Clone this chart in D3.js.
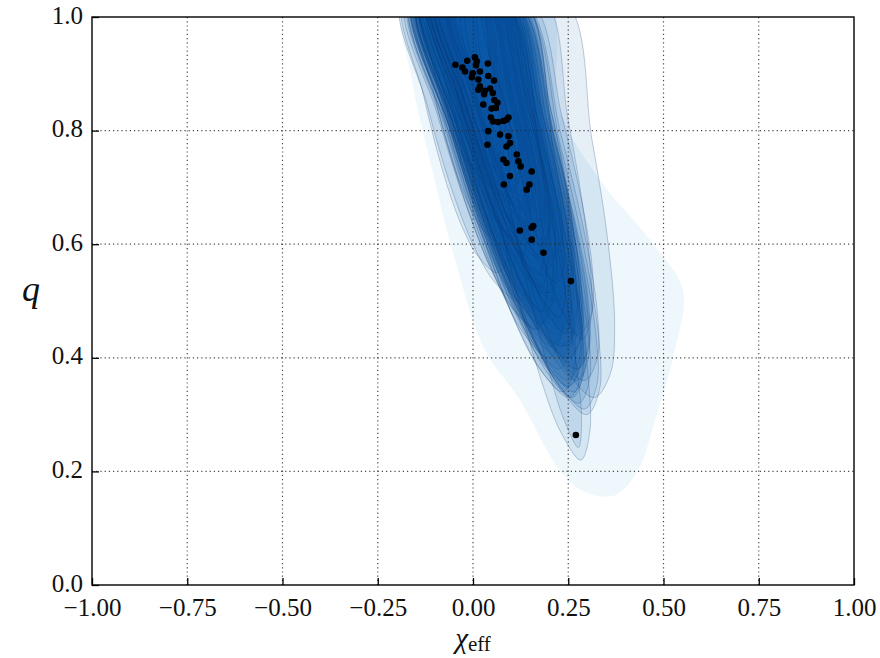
<!DOCTYPE html>
<html>
<head>
<meta charset="utf-8">
<script src="https://cdn.jsdelivr.net/npm/d3@7"></script>
<style>
  body { margin: 0; background: #fff; }
  svg { display: block; }
</style>
</head>
<body>
<svg id="chart" width="880" height="658"></svg>
<script>
// Median effective spin and mass ratio of each event (black markers)
const chiMed = [-0.046, -0.015, -0.028, -0.021, 0.005, 0.010, 0.008, 0.039, -0.001, 0.018,
                -0.003, 0.014, 0.040, 0.055, 0.018, 0.014, 0.031, 0.045, 0.029, 0.052,
                0.056, 0.064, 0.027, 0.049, 0.060, 0.047, 0.053, 0.066, 0.080, 0.093,
                0.088, 0.040, 0.071, 0.093, 0.038, 0.097, 0.088, 0.115, 0.080, 0.088,
                0.119, 0.125, 0.154, 0.097, 0.081, 0.148, 0.141, 0.123, 0.154, 0.158,
                0.154, 0.185, 0.257, 0.270];
const qMed   = [0.916, 0.923, 0.911, 0.904, 0.929, 0.922, 0.915, 0.918, 0.901, 0.904,
                0.894, 0.890, 0.896, 0.888, 0.878, 0.872, 0.870, 0.874, 0.864, 0.866,
                0.854, 0.849, 0.846, 0.839, 0.840, 0.823, 0.816, 0.815, 0.817, 0.823,
                0.819, 0.799, 0.793, 0.790, 0.775, 0.778, 0.772, 0.758, 0.749, 0.743,
                0.746, 0.737, 0.728, 0.720, 0.705, 0.705, 0.696, 0.624, 0.629, 0.632,
                0.608, 0.585, 0.535, 0.264];
// Lowest mass ratio reached by each event's outer credible contour
const qLow   = [0.55, 0.45, 0.60, 0.50, 0.40, 0.62, 0.52, 0.45, 0.58, 0.35,
                0.48, 0.55, 0.42, 0.50, 0.38, 0.60, 0.46, 0.53, 0.33, 0.44,
                0.57, 0.40, 0.50, 0.36, 0.55, 0.42, 0.48, 0.34, 0.52, 0.45,
                0.38, 0.40, 0.50, 0.36, 0.45, 0.55, 0.32, 0.42, 0.48, 0.35,
                0.50, 0.38, 0.44, 0.33, 0.46, 0.36, 0.50, 0.34, 0.40, 0.31,
                0.42, 0.30, 0.33, 0.22];
// Half-width of each contour in effective spin
const halfWidth = [0.10, 0.11, 0.09, 0.12, 0.12, 0.08, 0.10, 0.11, 0.09, 0.12,
                   0.10, 0.09, 0.12, 0.10, 0.11, 0.08, 0.11, 0.09, 0.12, 0.10,
                   0.09, 0.11, 0.10, 0.11, 0.08, 0.11, 0.10, 0.11, 0.09, 0.11,
                   0.11, 0.11, 0.10, 0.11, 0.11, 0.10, 0.11, 0.11, 0.10, 0.11,
                   0.12, 0.11, 0.12, 0.11, 0.10, 0.12, 0.12, 0.11, 0.12, 0.12,
                   0.12, 0.12, 0.13, 0.09];
// Spin shift per unit drop in mass ratio along each contour (q–chi correlation)
const tilt = [0.30, 0.38, 0.32, 0.35, 0.42, 0.30, 0.36, 0.40, 0.33, 0.42,
              0.38, 0.35, 0.42, 0.37, 0.42, 0.30, 0.40, 0.36, 0.42, 0.40,
              0.34, 0.42, 0.38, 0.42, 0.33, 0.40, 0.38, 0.42, 0.36, 0.40,
              0.42, 0.40, 0.38, 0.42, 0.40, 0.35, 0.42, 0.40, 0.40, 0.42,
              0.38, 0.42, 0.42, 0.42, 0.40, 0.42, 0.40, 0.40, 0.42, 0.42,
              0.42, 0.40, 0.30, 0.30];
// Outer, low-probability envelope of the broadest posteriors
const haloOutline = [[-0.18, 1.04], [0.19, 1.04], [0.228, 0.836], [0.333, 0.713], [0.465, 0.607],
                     [0.551, 0.519], [0.530, 0.414], [0.478, 0.290], [0.433, 0.202], [0.373, 0.158],
                     [0.294, 0.164], [0.228, 0.202], [0.123, 0.326], [0.031, 0.414], [-0.047, 0.572],
                     [-0.113, 0.748], [-0.160, 0.889]];

const xTicks = [-1.0, -0.75, -0.5, -0.25, 0.0, 0.25, 0.5, 0.75, 1.0];
const yTicks = [0.0, 0.2, 0.4, 0.6, 0.8, 1.0];

const serif = "'Liberation Serif', 'Times New Roman', Tinos, 'DejaVu Serif', serif";

const plot = { left: 92, right: 854, top: 17, bottom: 585 };
const x = d3.scaleLinear().domain([-1, 1]).range([plot.left, plot.right]);
const y = d3.scaleLinear().domain([0, 1]).range([plot.bottom, plot.top]);

const svg = d3.select("#chart");

svg.append("defs").append("clipPath").attr("id", "plot-clip")
  .append("rect")
  .attr("x", plot.left).attr("y", plot.top)
  .attr("width", plot.right - plot.left).attr("height", plot.bottom - plot.top);

const area = svg.append("g").attr("clip-path", "url(#plot-clip)");

const smooth = d3.line()
  .x(d => x(d[0])).y(d => y(d[1]))
  .curve(d3.curveCatmullRomClosed.alpha(0.5));

// Teardrop-shaped credible contour: open towards q = 1, closing at its lowest q
const profileU = [0.06, 0.18, 0.38, 0.65, 1.0];
const profileF = [0.42, 0.70, 0.90, 1.0, 1.0];
function contour(c, m, lo, w, t) {
  const top = 1.03;
  const center = q => c + t * (m - q);
  const pts = [];
  profileU.forEach((u, i) => {
    const q = lo + u * (top - lo);
    pts.push([center(q) + w * profileF[i], q]);
  });
  for (let i = profileU.length - 1; i >= 0; i--) {
    const q = lo + profileU[i] * (top - lo);
    pts.push([center(q) - w * profileF[i], q]);
  }
  pts.push([center(lo), lo]);
  return pts;
}

const events = chiMed.map((c, i) => ({
  c, m: qMed[i], lo: qLow[i], w: halfWidth[i], t: tilt[i]
}));

// faint outer envelope
area.append("path")
  .attr("d", smooth(haloOutline))
  .attr("fill", "#edf7fc")
  .attr("stroke", "none");

// outer (90%) contours
area.append("g").selectAll("path")
  .data(events)
  .join("path")
  .attr("d", e => smooth(contour(e.c, e.m, e.lo, e.w, e.t)))
  .attr("fill", "#0b55a3")
  .attr("fill-opacity", 0.1)
  .attr("stroke", "#0a2f66")
  .attr("stroke-opacity", 0.3)
  .attr("stroke-width", 0.8);

// inner (50%) contours
area.append("g").selectAll("path")
  .data(events)
  .join("path")
  .attr("d", e => smooth(contour(e.c, e.m, e.m - 0.5 * (e.m - e.lo), 0.6 * e.w, e.t)))
  .attr("fill", "#0b55a3")
  .attr("fill-opacity", 0.1)
  .attr("stroke", "#0a2f66")
  .attr("stroke-opacity", 0.28)
  .attr("stroke-width", 0.8);

// dotted grid
const grid = svg.append("g")
  .attr("stroke", "#2a2a2a")
  .attr("stroke-width", 1.2)
  .attr("stroke-dasharray", "1.2,3")
  .attr("stroke-opacity", 0.85);
grid.selectAll("line.v").data(xTicks.slice(1, -1)).join("line")
  .attr("class", "v")
  .attr("x1", d => x(d)).attr("x2", d => x(d))
  .attr("y1", plot.top).attr("y2", plot.bottom);
grid.selectAll("line.h").data(yTicks.slice(1, -1)).join("line")
  .attr("class", "h")
  .attr("x1", plot.left).attr("x2", plot.right)
  .attr("y1", d => y(d)).attr("y2", d => y(d));

// medians
svg.append("g").selectAll("circle")
  .data(events)
  .join("circle")
  .attr("cx", e => x(e.c))
  .attr("cy", e => y(e.m))
  .attr("r", 3.3)
  .attr("fill", "#000");

// axes with inward ticks
const xAxis = svg.append("g")
  .attr("transform", `translate(0,${plot.bottom})`)
  .call(d3.axisBottom(x).tickValues(xTicks).tickFormat(d3.format(".2f"))
        .tickSize(-7).tickPadding(13));
const yAxis = svg.append("g")
  .attr("transform", `translate(${plot.left},0)`)
  .call(d3.axisLeft(y).tickValues(yTicks).tickFormat(d3.format(".1f"))
        .tickSize(-7).tickPadding(9));
[xAxis, yAxis].forEach(a => {
  a.attr("font-family", serif).attr("font-size", 25);
  a.select(".domain").remove();
  a.selectAll(".tick line").attr("stroke", "#000").attr("stroke-width", 1.3);
  a.selectAll(".tick text").attr("fill", "#111")
    .attr("font-family", serif).attr("font-size", 25);
});
yAxis.selectAll(".tick text").attr("dy", "0.24em");

// frame
svg.append("rect")
  .attr("x", plot.left).attr("y", plot.top)
  .attr("width", plot.right - plot.left).attr("height", plot.bottom - plot.top)
  .attr("fill", "none").attr("stroke", "#000").attr("stroke-width", 1.4);

// axis titles
const xl = svg.append("text")
  .attr("x", x(0)).attr("y", 648)
  .attr("text-anchor", "middle")
  .attr("font-family", serif)
  .attr("fill", "#111");
xl.append("tspan").attr("font-size", 29).attr("font-style", "italic").text("χ");
xl.append("tspan").attr("font-size", 21).attr("dy", 3).text("eff");

svg.append("text")
  .attr("x", 31).attr("y", y(0.5))
  .attr("text-anchor", "middle")
  .attr("font-family", serif)
  .attr("font-style", "italic")
  .attr("font-size", 36)
  .attr("fill", "#111")
  .text("q");
</script>
</body>
</html>
